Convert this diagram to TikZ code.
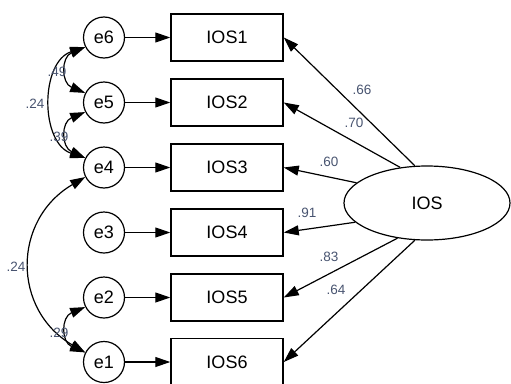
\documentclass[tikz,border=0pt]{standalone}
\usepackage{fontspec}
\setmainfont{Liberation Sans}
\usetikzlibrary{arrows.meta,shapes.geometric}
\definecolor{coef}{RGB}{72,84,112}
\tikzset{
  errnode/.style={circle,draw,line width=1.2pt,minimum size=41pt,inner sep=0pt,font=\fontsize{18}{20}\selectfont},
  obsnode/.style={rectangle,draw,line width=1.5pt,minimum width=112pt,minimum height=47pt,inner sep=0pt,font=\fontsize{18}{20}\selectfont},
  latnode/.style={ellipse,draw,line width=1.2pt,minimum width=166pt,minimum height=74pt,inner sep=0pt,font=\fontsize{18}{20}\selectfont},
  path/.style={line width=1.2pt,-{Triangle[length=15pt,width=10pt]}},
  cov/.style={line width=1.2pt,{Triangle[length=15pt,width=10pt]}-{Triangle[length=15pt,width=10pt]}},
  coeflab/.style={text=coef,font=\fontsize{13.5}{15}\selectfont,inner sep=0pt}
}
\begin{document}
\begin{tikzpicture}[x=1pt,y=-1pt]
\useasboundingbox (0,0) rectangle (511,383);
% indicators and their error terms
\foreach \i/\yy in {1/37.5,2/102.5,3/167.5,4/232.5,5/297.5,6/362}{
  \node[obsnode] (ios\i) at (227,\yy) {IOS\i};
}
\node[errnode] (e6) at (104,37.5) {e6};
\node[errnode] (e5) at (104,102.5) {e5};
\node[errnode] (e4) at (104,167.5) {e4};
\node[errnode] (e3) at (104,232.5) {e3};
\node[errnode] (e2) at (104,297.5) {e2};
\node[errnode] (e1) at (104,362) {e1};
\draw[path] (e6) -- (ios1);
\draw[path] (e5) -- (ios2);
\draw[path] (e4) -- (ios3);
\draw[path] (e3) -- (ios4);
\draw[path] (e2) -- (ios5);
\draw[path] (e1) -- (ios6);
% latent factor
\node[latnode] (ios) at (427,203) {IOS};
\draw[path] (ios.108) -- (ios1.east);
\draw[path] (ios.127) -- (ios2.east);
\draw[path] (ios.164) -- (ios3.east);
\draw[path] (ios.195) -- (ios4.east);
\draw[path] (ios.230) -- (ios5.east);
\draw[path] (ios.252) -- (ios6.east);
% factor loadings
\node[coeflab] at (362,90) {.66};
\node[coeflab] at (354,123) {.70};
\node[coeflab] at (329,162) {.60};
\node[coeflab] at (307,213) {.91};
\node[coeflab] at (329,257) {.83};
\node[coeflab] at (336,290) {.64};
% error covariances
\draw[cov] (e6.207) .. controls (61,57) and (61,83) .. (e5.153);
\draw[cov] (e5.207) .. controls (61,122) and (61,147) .. (e4.153);
\draw[cov] (e6.207) .. controls (40,62) and (40,143) .. (e4.153);
\draw[cov] (e4.207) .. controls (12,220) and (12,310) .. (e1.153);
\draw[cov] (e2.207) .. controls (61,317) and (61,342) .. (e1.153);
\node[coeflab] at (57,72) {.49};
\node[coeflab] at (35,104) {.24};
\node[coeflab] at (59,137) {.39};
\node[coeflab] at (16,267) {.24};
\node[coeflab] at (59,333) {.29};
\end{tikzpicture}
\end{document}
